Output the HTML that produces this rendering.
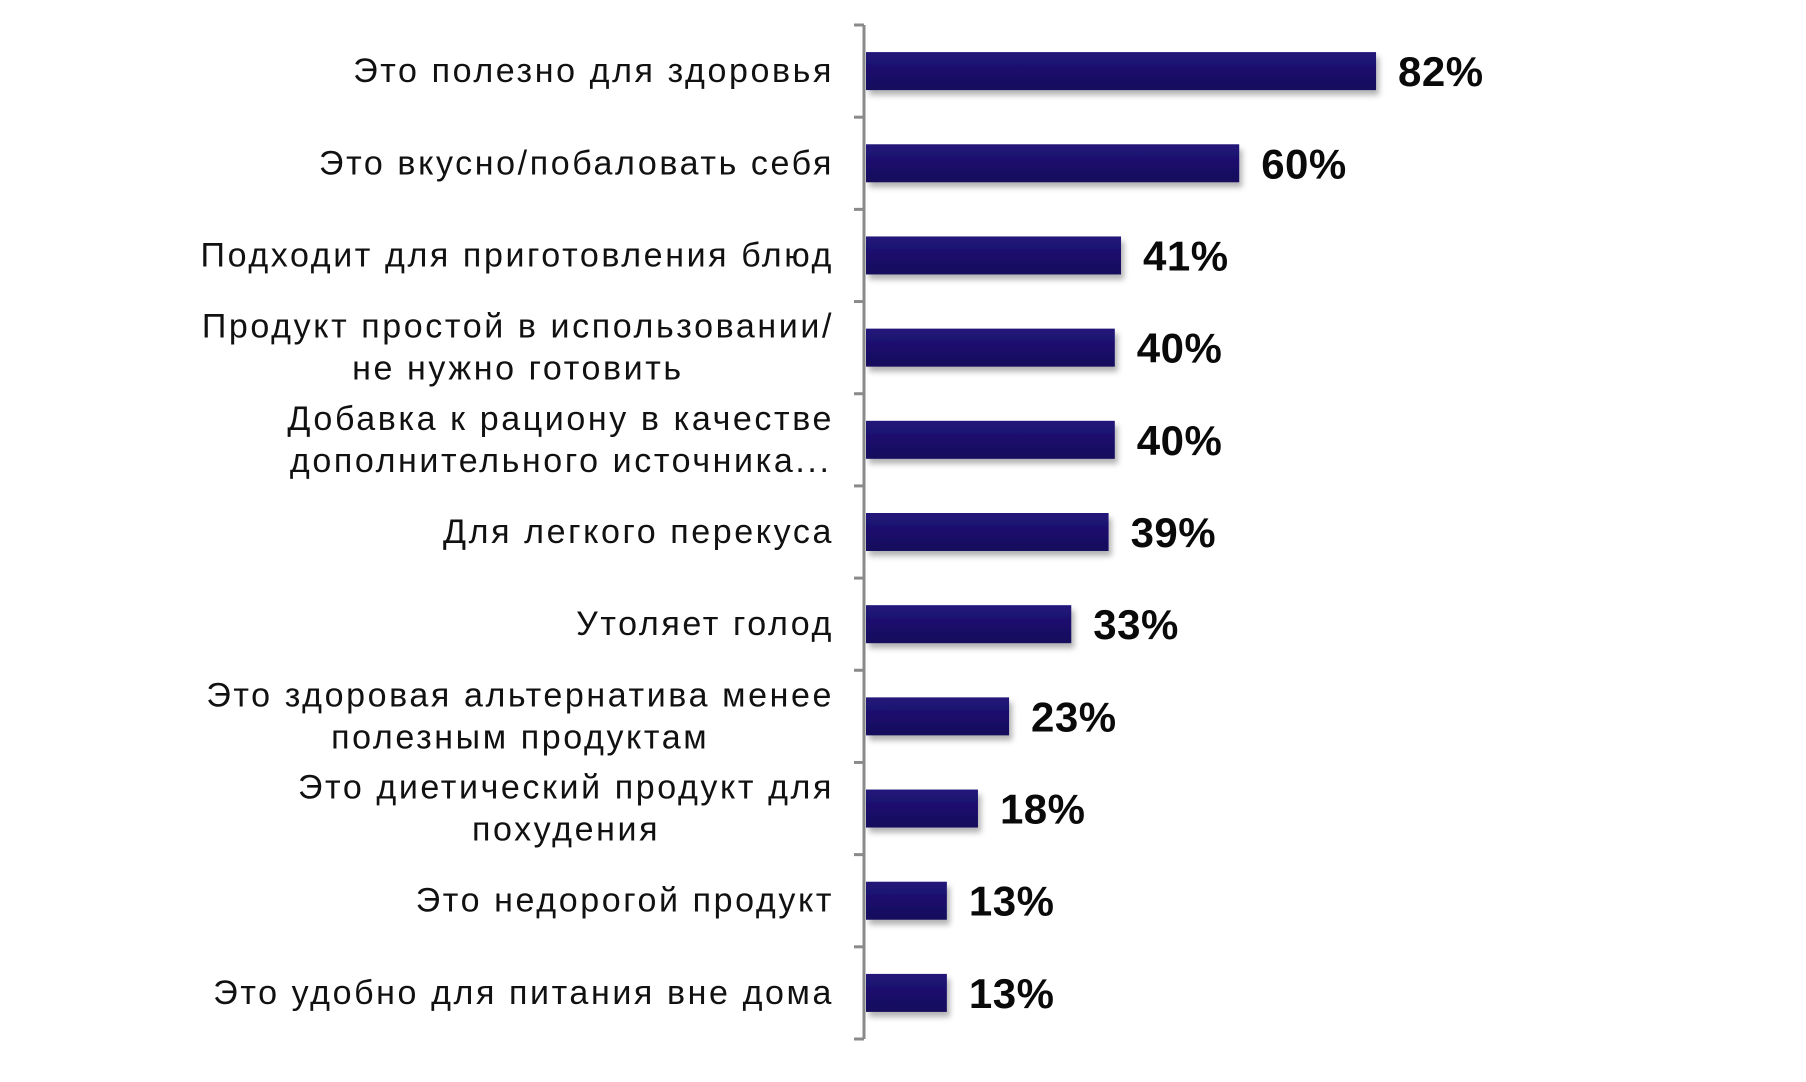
<!DOCTYPE html>
<html><head><meta charset="utf-8"><style>
html,body{margin:0;padding:0;background:#fff;}
svg{display:block;}
text{font-family:"Liberation Sans",sans-serif;}
</style></head><body>
<svg id="chart" width="1806" height="1082" viewBox="0 0 1806 1082">
<defs>
<linearGradient id="bg" x1="0" y1="0" x2="0" y2="1">
<stop offset="0" stop-color="#22157a"/><stop offset="1" stop-color="#150a5c"/>
</linearGradient>
<filter id="sh" x="-5%" y="-20%" width="115%" height="160%"><feDropShadow dx="3" dy="5" stdDeviation="3" flood-color="#000" flood-opacity="0.3"/></filter>
</defs>
<g id="axis"></g>
<g id="bars"></g>
</svg>
<script>
const categories = [
 ["Это полезно для здоровья"],
 ["Это вкусно/побаловать себя"],
 ["Подходит для приготовления блюд"],
 ["Продукт простой в использовании/","не нужно готовить"],
 ["Добавка к рациону в качестве","дополнительного источника..."],
 ["Для легкого перекуса"],
 ["Утоляет голод"],
 ["Это здоровая альтернатива менее","полезным продуктам"],
 ["Это диетический продукт для","похудения"],
 ["Это недорогой продукт"],
 ["Это удобно для питания вне дома"]
];
const values = [82,60,41,40,40,39,33,23,18,13,13];
const valueLabels = ["82%","60%","41%","40%","40%","39%","33%","23%","18%","13%","13%"];

const NS="http://www.w3.org/2000/svg";
const x0=866, pxPerPct=6.22, yTop=25, yBottom=1039, axisX=864, labelRight=834;
const band=(yBottom-yTop)/categories.length;
const xScale=v=>v*pxPerPct;
const yCenter=i=>yTop+band*(i+0.5);
function mk(t,a){const e=document.createElementNS(NS,t);for(const k in a)e.setAttribute(k,a[k]);return e;}
const ax=document.getElementById('axis'), bg=document.getElementById('bars');
const line=mk('line',{x1:axisX,y1:yTop,x2:axisX,y2:yBottom,stroke:'#8a8a8a','stroke-width':3});


ax.appendChild(line);
for(let i=0;i<=categories.length;i++){
 const y=yTop+band*i;
 const t=mk('line',{x1:axisX-10,y1:y,x2:axisX,y2:y,stroke:'#8a8a8a','stroke-width':3});
 
 
 ax.appendChild(t);
}
categories.forEach((lines,i)=>{
 const cy=yCenter(i), h=38;
 const r=mk('rect',{x:x0,y:cy-h/2,width:xScale(values[i]),height:h,fill:'url(#bg)',filter:'url(#sh)'});
 
 
 bg.appendChild(r);
 const vl=mk('text',{x:x0+xScale(values[i])+22,y:cy+15,'font-size':42,'font-weight':'bold',fill:'#0a0a0a','letter-spacing':'0.5'});
 vl.textContent=valueLabels[i];
 
 
 bg.appendChild(vl);
 const n=lines.length, lh=42;
 const els=lines.map((s,j)=>{
  const ty=cy+11+(j-(n-1)/2)*lh;
  const tl=mk('text',{x:labelRight,y:ty,'font-size':34,'text-anchor':'middle',fill:'#111','letter-spacing':'2.6'});
  tl.textContent=s;
  
  
  ax.appendChild(tl);
  return tl;
 });
 const maxW=Math.max(...els.map(e=>e.getComputedTextLength()));
 els.forEach(e=>e.setAttribute('x',labelRight-maxW/2));
});
</script>
</body></html>
